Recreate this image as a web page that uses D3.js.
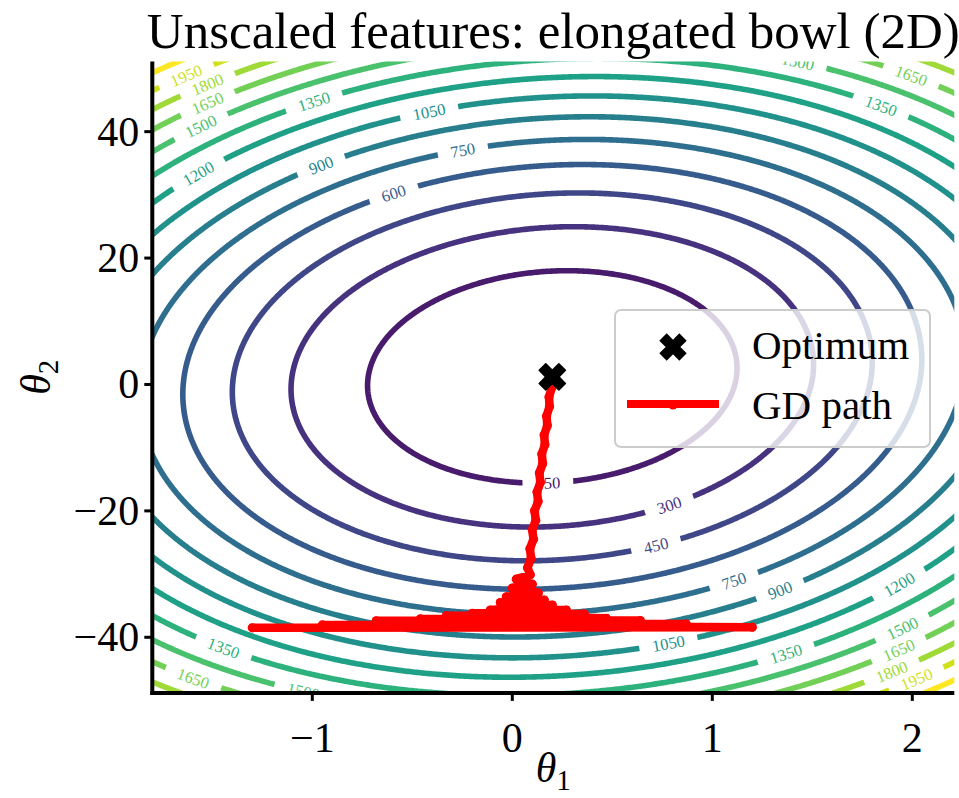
<!DOCTYPE html>
<html><head><meta charset="utf-8">
<script src="https://cdn.jsdelivr.net/npm/d3@7"></script>
<style>body{margin:0;background:#fff} svg{display:block}</style>
</head><body><svg id="chart" width="959" height="798"></svg>
<script>
// ---------------- data ----------------
const titleText = "Unscaled features: elongated bowl (2D)";
const xLabelVar = "θ", xLabelSub = "1";
const yLabelVar = "θ", yLabelSub = "2";
const xTicks = [-1, 0, 1, 2];
const yTicks = [-40, -20, 0, 20, 40];
const xDomain = [-1.8, 2.21];
const yDomain = [-48.8, 51.1];
const optimum = [0.2, 1.2];
// quadratic bowl J = a*d1^2 + b*d1*d2 + c*d2^2 around the optimum
const lossCoef = [177, -1.6, 0.535];
const contourLevels = [150, 300, 450, 600, 750, 900, 1050, 1200, 1350, 1500, 1650, 1800, 1950, 2100];
const colorDomain = [0, 2100];
// gradient-descent path
const gdTheta1 = [-1.30, 1.20, -0.95, 0.87, -0.68, 0.64, -0.46, 0.47, -0.33, 0.36, -0.20, 0.27, -0.11, 0.20, -0.06, 0.16, -0.03, 0.13, 0.00, 0.10, 0.02, 0.09,
                  0.076, 0.094, 0.088, 0.106, 0.0996, 0.1175, 0.1113, 0.129, 0.1235, 0.1404, 0.1352, 0.1521, 0.1474, 0.1633, 0.1591, 0.175, 0.1713, 0.1862, 0.1835, 0.1974, 0.1943, 0.200];
const gdTheta2 = [-38.5, -38.4, -38.05, -37.9, -37.4, -37.35, -37.1, -37.0, -36.6, -36.3, -36.2, -35.7, -35.7, -34.9, -34.5, -34.1, -33.6, -33.0, -32.2, -31.6, -30.8, -30.1,
                  -29, -27.5, -26, -24.5, -23, -21.5, -20, -18.5, -17, -15.5, -14, -12.5, -11, -9.5, -8, -6.5, -5, -3.5, -2, -0.5, 0.5, 1.2];
// contour label anchors
const labelLevels = [150, 300, 450, 600, 750, 750, 900, 900, 1050, 1050, 1200, 1200, 1350, 1350, 1350, 1350, 1500, 1500, 1500, 1500, 1650, 1650, 1650, 1650, 1800, 1800, 1950, 1950];
const labelTheta1 = [0.179, 0.789, 0.722, -0.597, -0.252, 1.105, -0.953, 1.339, -0.412, 0.780, -1.572, 1.939, -0.997, 1.838, -1.437, 1.372, -1.562, 1.422, -1.037, 1.955, -1.528, 1.989, -1.587, 1.930, -1.522, 1.890, -1.628, 2.022];
const labelTheta2 = [-15.6, -19.4, -25.4, 30.5, 37.1, -30.9, 34.7, -32.8, 43.2, -41.5, 33.5, -31.7, 45.0, 43.4, -40.9, -43.1, 41.1, 50.55, -47.7, -38.6, 44.7, 48.4, -45.6, -42.0, 47.7, -44.9, 49.0, -46.5];
const legendLabels = ["Optimum", "GD path"];

// ---------------- drawing ----------------
const svg = d3.select("#chart");
const W = 959, H = 798;
const serif = "'Liberation Serif','Times New Roman',Times,serif";
const x = d3.scaleLinear().domain(xDomain).range([152.3, 954.3]);
const y = d3.scaleLinear().domain(yDomain).range([692.9, 61.5]);
const color = d3.scaleSequential(d3.interpolateViridis).domain(colorDomain);
const axL = x(xDomain[0]), axR = x(xDomain[1]), axT = y(yDomain[1]), axB = y(yDomain[0]);

const defs = svg.append("defs");
defs.append("clipPath").attr("id", "axClip").append("rect")
  .attr("x", axL).attr("y", axT).attr("width", axR - axL).attr("height", axB - axT);

// grid for contours (extends beyond the axes so border edges are clipped away)
const gx0 = -2.1, gx1 = 2.5, gy0 = -56, gy1 = 58, nx = 520, ny = 520;
const sx = (gx1 - gx0) / (nx - 1), sy = (gy1 - gy0) / (ny - 1);
const loss = (t1, t2) => {
  const d1 = t1 - optimum[0], d2 = t2 - optimum[1];
  return lossCoef[0] * d1 * d1 + lossCoef[1] * d1 * d2 + lossCoef[2] * d2 * d2;
};
const values = new Float64Array(nx * ny);
for (let j = 0; j < ny; j++) for (let i = 0; i < nx; i++) values[j * nx + i] = loss(gx0 + i * sx, gy0 + j * sy);
const contours = d3.contours().size([nx, ny]).thresholds(contourLevels)(values);

const linesByLevel = new Map();
contours.forEach(c => {
  const rings = [];
  c.coordinates.forEach(poly => poly.forEach(ring => {
    rings.push(ring.map(p => [x(gx0 + (p[0] - 0.5) * sx), y(gy0 + (p[1] - 0.5) * sy)]));
  }));
  linesByLevel.set(c.value, rings);
});

// label geometry
const labelFs = 16.5;
const labels = labelLevels.map((lv, k) => {
  const px = x(labelTheta1[k]), py = y(labelTheta2[k]);
  const rings = linesByLevel.get(lv) || [];
  let best = null, bd = Infinity;
  rings.forEach((ring, ri) => ring.forEach((p, pi) => {
    const d = (p[0] - px) ** 2 + (p[1] - py) ** 2;
    if (d < bd) { bd = d; best = [ri, pi]; }
  }));
  if (!best) return null;
  const ring = rings[best[0]], i = best[1], n = ring.length;
  const walk = dir => {
    let j = i, dist = 0, steps = 0;
    while (dist < 14 && steps < n) {
      const nj = (j + dir + n) % n;
      dist += Math.hypot(ring[nj][0] - ring[j][0], ring[nj][1] - ring[j][1]);
      j = nj; steps++;
    }
    return ring[j];
  };
  const a = walk(-1), b = walk(1);
  let ang = Math.atan2(b[1] - a[1], b[0] - a[0]) * 180 / Math.PI;
  if (ang > 90) ang -= 180;
  if (ang < -90) ang += 180;
  return { level: lv, cx: ring[i][0], cy: ring[i][1], ang };
}).filter(d => d);

// mask to break contour lines under labels
const mask = defs.append("mask").attr("id", "labelMask").attr("maskUnits", "userSpaceOnUse")
  .attr("x", 0).attr("y", 0).attr("width", W).attr("height", H);
mask.append("rect").attr("x", 0).attr("y", 0).attr("width", W).attr("height", H).attr("fill", "white");

const plot = svg.append("g").attr("clip-path", "url(#axClip)");
const lineG = plot.append("g").attr("mask", "url(#labelMask)");
contours.forEach(c => {
  const rings = linesByLevel.get(c.value);
  const d = rings.map(r => "M" + r.map(p => p[0].toFixed(2) + "," + p[1].toFixed(2)).join("L")).join("");
  lineG.append("path").attr("d", d).attr("fill", "none")
    .attr("stroke", color(c.value)).attr("stroke-width", 5.6).attr("stroke-linejoin", "round");
});

const labelG = plot.append("g");
labels.forEach(l => {
  const t = labelG.append("text")
    .attr("transform", `translate(${l.cx},${l.cy}) rotate(${l.ang})`)
    .attr("text-anchor", "middle").attr("dy", "0.35em")
    .attr("font-family", serif).attr("font-size", labelFs)
    .attr("fill", color(l.level)).text(l.level);
  const tw = t.node().getComputedTextLength();
  mask.append("rect").attr("x", -tw / 2 - 13).attr("y", -6).attr("width", tw + 26).attr("height", 12)
    .attr("transform", `translate(${l.cx},${l.cy}) rotate(${l.ang})`).attr("fill", "black");
});

// GD path
const gdPts = gdTheta1.map((t, i) => [x(t), y(gdTheta2[i])]);
plot.append("path").attr("d", d3.line()(gdPts)).attr("fill", "none")
  .attr("stroke", "#ff0000").attr("stroke-width", 8.5).attr("stroke-linejoin", "round").attr("stroke-linecap", "round");
plot.append("g").selectAll("circle").data(gdPts).join("circle")
  .attr("cx", d => d[0]).attr("cy", d => d[1]).attr("r", 4.6).attr("fill", "#ff0000");

// optimum marker (filled X)
const xMark = d3.symbol().type(d3.symbolCross).size(430);
plot.append("path").attr("d", xMark())
  .attr("transform", `translate(${x(optimum[0])},${y(optimum[1])}) rotate(45)`)
  .attr("fill", "black").attr("stroke", "black").attr("stroke-width", 1.5).attr("stroke-linejoin", "round");

// axes
const axG = svg.append("g");
axG.append("line").attr("x1", axL).attr("x2", axL).attr("y1", axT).attr("y2", axB + 2)
  .attr("stroke", "black").attr("stroke-width", 4);
axG.append("line").attr("x1", axL - 2).attr("x2", axR).attr("y1", axB).attr("y2", axB)
  .attr("stroke", "black").attr("stroke-width", 4);
xTicks.forEach(t => {
  axG.append("line").attr("x1", x(t)).attr("x2", x(t)).attr("y1", axB).attr("y2", axB + 8)
    .attr("stroke", "black").attr("stroke-width", 3);
  axG.append("text").attr("x", x(t)).attr("y", axB + 59).attr("text-anchor", "middle")
    .attr("font-family", serif).attr("font-size", 42).attr("fill", "black")
    .text(t < 0 ? "\u2212" + Math.abs(t) : String(t));
});
yTicks.forEach(t => {
  axG.append("line").attr("x1", axL - 8).attr("x2", axL).attr("y1", y(t)).attr("y2", y(t))
    .attr("stroke", "black").attr("stroke-width", 3);
  axG.append("text").attr("x", axL - 13).attr("y", y(t) + 14).attr("text-anchor", "end")
    .attr("font-family", serif).attr("font-size", 42).attr("fill", "black")
    .text(t < 0 ? "\u2212" + Math.abs(t) : String(t));
});
// axis labels
const xl = svg.append("text").attr("x", (axL + axR) / 2).attr("y", 782).attr("text-anchor", "middle")
  .attr("font-family", serif).attr("font-size", 42).attr("fill", "black");
xl.append("tspan").attr("font-style", "italic").text(xLabelVar);
xl.append("tspan").attr("font-size", 29).attr("dy", 8).text(xLabelSub);
const yl = svg.append("text").attr("transform", `translate(50,${(axT + axB) / 2}) rotate(-90)`).attr("text-anchor", "middle")
  .attr("font-family", serif).attr("font-size", 42).attr("fill", "black");
yl.append("tspan").attr("font-style", "italic").text(yLabelVar);
yl.append("tspan").attr("font-size", 29).attr("dy", 8).text(yLabelSub);

// title
svg.append("text").attr("x", (axL + axR) / 2).attr("y", 48).attr("text-anchor", "middle")
  .attr("font-family", serif).attr("font-size", 51).attr("fill", "black").text(titleText);

// legend
const lg = svg.append("g");
lg.append("rect").attr("x", 615).attr("y", 310).attr("width", 315).attr("height", 137).attr("rx", 6)
  .attr("fill", "white").attr("fill-opacity", 0.8).attr("stroke", "#cccccc").attr("stroke-width", 2);
lg.append("path").attr("d", d3.symbol().type(d3.symbolCross).size(400)())
  .attr("transform", "translate(673,347) rotate(45)").attr("fill", "black").attr("stroke", "black").attr("stroke-width", 1.5);
lg.append("line").attr("x1", 627).attr("x2", 719).attr("y1", 404).attr("y2", 404)
  .attr("stroke", "#ff0000").attr("stroke-width", 8);
lg.append("circle").attr("cx", 673).attr("cy", 405).attr("r", 4.5).attr("fill", "#ff0000");
legendLabels.forEach((s, i) => {
  lg.append("text").attr("x", 752).attr("y", 359 + i * 60).attr("font-family", serif).attr("font-size", 41)
    .attr("fill", "black").text(s);
});
</script></body></html>
